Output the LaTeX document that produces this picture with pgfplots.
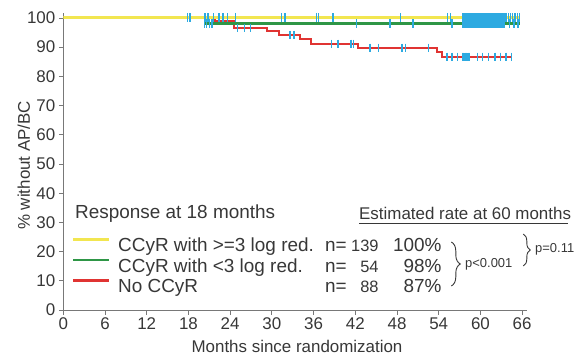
\documentclass[border=0pt]{standalone}
\usepackage{fontspec}
\setmainfont{Liberation Sans}
\usepackage{pgfplots}
\pgfplotsset{compat=1.18}
\usetikzlibrary{decorations.pathreplacing}
\definecolor{kmyellow}{RGB}{242,230,80}
\definecolor{kmgreen}{RGB}{46,150,70}
\definecolor{kmred}{RGB}{224,52,50}
\definecolor{kmcyan}{RGB}{45,170,225}
\definecolor{txt}{RGB}{55,55,55}
\definecolor{axgray}{RGB}{120,120,120}
\begin{document}
\begin{tikzpicture}
\path[use as bounding box] (-63.3bp,-53bp) rectangle (522.7bp,310bp);
\begin{axis}[
  scale only axis,
  width=463.7bp, height=297bp,
  xmin=0, xmax=66.7, ymin=0, ymax=101.7,
  axis lines=left,
  axis line style={-, axgray, line width=0.9bp},
  tick style={axgray, line width=0.9bp},
  tick align=outside,
  major tick length=4.5bp,
  xtick={0,6,...,66}, ytick={0,10,...,100},
  /pgf/number format/assume math mode=true,
  tick label style={font=\fontsize{17}{17}\selectfont, text=txt},
  xlabel={Months since randomization},
  ylabel={\% without AP/BC},
  label style={font=\fontsize{17}{17}\selectfont, text=txt},
  xlabel style={at={(rel axis cs:0.504,0)}, anchor=base, yshift=-42.5bp},
  ylabel style={at={(rel axis cs:0,0.487)}, anchor=base, yshift=33.3bp},
  legend cell align=left,
  legend image code/.code={\path[draw=none] (0bp,0bp) -- (45bp,0bp); \draw[#1] (0bp,8.5bp) -- (36bp,8.5bp);},
  legend style={draw=none, fill=none, inner sep=0pt, outer sep=0pt,
    anchor=north west, at={(axis description cs:0.0188,0.2434)},
    font=\fontsize{19}{19}\selectfont, text=txt, row sep=0pt,
    nodes={inner sep=0pt, text height=14bp, text depth=6.5bp}},
]
% step curves
\addplot[const plot, kmred, line width=2bp, forget plot] coordinates {
 (0,100) (21.8,98.9) (24.6,96.6) (29.3,95.4) (31.0,94.3) (34.0,92.8) (35.7,91.2)
 (42.4,89.8) (53.7,88.4) (54.5,86.8) (64.5,86.8)};
\addplot[const plot, kmgreen, line width=2.4bp, forget plot] coordinates {
 (0,100) (20.4,98.1) (65.7,98.1)};
\addplot[const plot, kmyellow, line width=3bp, forget plot] coordinates {
 (0,100) (65.7,100)};
% censoring marks
\addplot[only marks, mark=|, mark size=4.5bp, kmcyan, mark options={line width=1.4bp}, forget plot] coordinates {
 (17.9,100) (18.2,100) (20.4,100) (20.8,100) (21.6,100) (22.4,100) (23.0,100) (23.6,100) (24.8,100)
 (31.4,100) (31.9,100) (36.4,100) (36.7,100) (38.8,100) (48.5,100) (55.3,100) (55.7,100)
 (57.4,100) (57.5,100) (57.6,100) (57.7,100) (57.8,100) (57.9,100) (58.0,100) (58.1,100) (58.2,100)
 (58.3,100) (58.4,100) (58.5,100) (58.6,100) (58.7,100) (58.8,100) (58.9,100) (59.0,100) (59.1,100)
 (59.2,100) (59.3,100) (59.4,100) (59.5,100) (59.6,100) (59.7,100) (59.8,100) (59.9,100) (60.0,100)
 (60.1,100) (60.2,100) (60.3,100) (60.4,100) (60.5,100) (60.6,100) (60.7,100) (60.8,100) (60.9,100)
 (61.0,100) (61.1,100) (61.2,100) (61.3,100) (61.4,100) (61.5,100) (61.6,100) (61.7,100) (61.8,100)
 (61.9,100) (62.0,100) (62.1,100) (62.2,100) (62.3,100) (62.4,100) (62.5,100) (62.6,100) (62.7,100)
 (62.8,100) (62.9,100) (63.0,100) (63.1,100) (63.2,100) (63.3,100) (63.4,100) (63.5,100) (63.7,100)
 (64.0,100) (64.3,100) (64.6,100) (65.0,100) (65.3,100) (65.6,100)};
\addplot[only marks, mark=|, mark size=4.5bp, kmcyan, mark options={line width=1.4bp}, forget plot] coordinates {
 (20.3,98.1) (20.6,98.1) (21.0,98.1) (21.4,98.1) (42.2,98.1) (47.0,98.1) (50.3,98.1) (55.9,98.1)
 (57.5,98.1) (57.7,98.1) (57.9,98.1) (58.1,98.1) (58.3,98.1) (58.5,98.1) (58.7,98.1) (58.9,98.1)
 (59.1,98.1) (59.3,98.1) (59.5,98.1) (59.7,98.1) (59.9,98.1) (60.1,98.1) (60.3,98.1) (60.5,98.1)
 (60.7,98.1) (60.9,98.1) (61.1,98.1) (61.3,98.1) (61.5,98.1) (61.7,98.1) (61.9,98.1) (62.1,98.1)
 (62.3,98.1) (62.5,98.1) (62.7,98.1) (62.9,98.1) (63.1,98.1) (63.3,98.1) (63.5,98.1) (64.2,98.1)
 (64.8,98.1) (65.4,98.1)};
\addplot[only marks, mark=|, mark size=4bp, kmcyan, mark options={line width=1.4bp}, forget plot] coordinates {
 (25.1,96.6) (26.1,96.6) (26.9,96.6) (32.6,94.3) (33.2,94.3)
 (38.6,91.2) (39.5,91.2) (41.4,91.2) (41.7,91.2)
 (44.1,89.8) (45.3,89.8) (48.7,89.8) (49.2,89.8) (52.5,89.8)
 (55.2,86.8) (55.9,86.8) (56.7,86.8) (57.4,86.8) (57.6,86.8) (57.8,86.8) (58.0,86.8) (58.2,86.8)
 (58.4,86.8) (59.6,86.8) (60.3,86.8) (61.2,86.8) (62.1,86.8) (62.9,86.8) (63.7,86.8) (64.5,86.8)};
% legend entries
\addlegendimage{kmyellow, line width=2.4bp}
\addlegendentry{CCyR with >=3 log red.}
\addlegendimage{kmgreen, line width=2.4bp}
\addlegendentry{CCyR with <3 log red.}
\addlegendimage{kmred, line width=2.4bp}
\addlegendentry{No CCyR}
\end{axis}
% annotation text
\begin{scope}[every node/.style={inner sep=0pt, text=txt}]
\node[anchor=base west, font=\fontsize{19}{19}\selectfont] at (11.7bp,91.7bp) {Response at 18 months};
\node[anchor=base west, font=\fontsize{17}{17}\selectfont] at (295.7bp,90.5bp) {Estimated rate at 60 months};
\draw[txt, line width=0.8bp] (295.7bp,86.5bp) -- (504.7bp,86.5bp);
\foreach \yb/\n/\p in {58.3/139/100, 37.8/54/98, 17.3/88/87}{
  \node[anchor=base west, font=\fontsize{19}{19}\selectfont] at (261.7bp,\yb bp) {n=};
  \node[anchor=base east, font=\fontsize{16.5}{16.5}\selectfont] at (315.5bp,\yb bp) {\n};
  \node[anchor=base east, font=\fontsize{19}{19}\selectfont] at (378.4bp,\yb bp) {\p\%};
}
\draw[txt, line width=0.9bp, decorate, decoration={brace, amplitude=9bp}] (388bp,68bp) -- (388bp,24bp);
\node[anchor=base west, font=\fontsize{13}{13}\selectfont] at (401.7bp,42bp) {p<0.001};
\draw[txt, line width=0.9bp, decorate, decoration={brace, amplitude=7bp}] (460bp,76bp) -- (460bp,44bp);
\node[anchor=base west, font=\fontsize{13}{13}\selectfont] at (471.7bp,57bp) {p=0.11};
\end{scope}
\end{tikzpicture}
\end{document}
